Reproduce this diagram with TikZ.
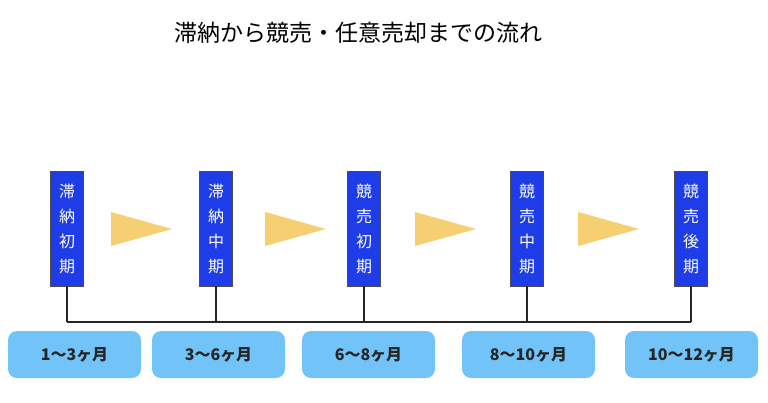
\documentclass[tikz,border=0pt]{standalone}
\usepackage{fontspec}
\setmainfont{Noto Sans CJK JP}
\begin{document}
\begin{tikzpicture}[x=1pt,y=-1pt,
 phase/.style={draw=black!70,line width=0.4pt,fill=phblue,text=white,minimum width=33pt,minimum height=115pt,inner sep=0pt,align=center,font=\fontsize{16}{25}\selectfont},
 pill/.style={fill=pillblue,rounded corners=9pt,minimum width=133pt,minimum height=47pt,font=\fontsize{16}{18}\selectfont\bfseries,text=black!85},
 tri/.style={fill=triyellow,draw=none},
 ln/.style={line width=1.2pt,black!85}]
\definecolor{phblue}{HTML}{1E3DE8}
\definecolor{pillblue}{HTML}{72C3F7}
\definecolor{triyellow}{HTML}{F6CF72}
\useasboundingbox (0,0) rectangle (768,402);
\node[font=\fontsize{23}{26}\selectfont] (title) at (358,33) {滞納から競売・任意売却までの流れ};
\foreach \n/\x/\t in {a/67/滞\\納\\初\\期, b/216/滞\\納\\中\\期, c/364/競\\売\\初\\期, d/527/競\\売\\中\\期, e/691/競\\売\\後\\期}{
  \node[phase] (\n) at (\x,228.5) {\t};
  \coordinate (\n j) at (\x,322);
}
\draw[ln] (aj) -- (ej);
\foreach \n in {a,b,c,d,e}{\draw[ln] (\n.south) -- (\n j);}
\foreach \n/\x/\t in {p1/74.5/1～3ヶ月, p2/218.5/3～6ヶ月, p3/368.5/6～8ヶ月, p4/528.5/8～10ヶ月, p5/691.5/10～12ヶ月}{
  \node[pill] (\n) at (\x,354.5) {\t};
}
\foreach \n/\x in {t1/111,t2/265,t3/415,t4/578}{
  \path[tri] (\x,212) -- (\x+61,229) coordinate (\n) -- (\x,246) -- cycle;
}
\end{tikzpicture}
\end{document}
